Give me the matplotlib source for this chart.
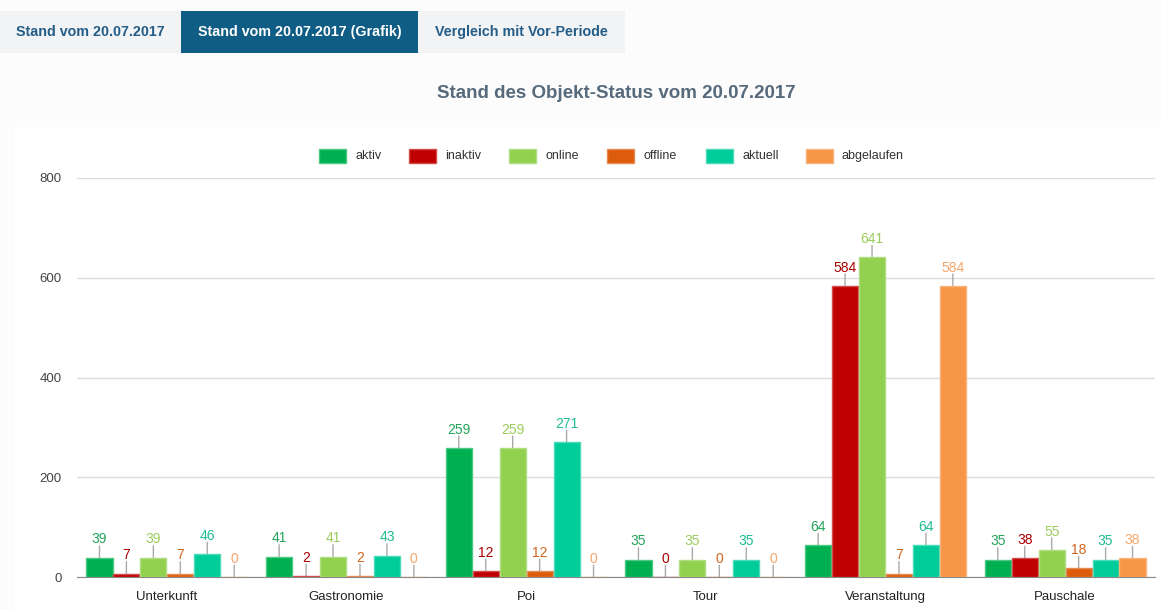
import matplotlib
matplotlib.use("Agg")
import matplotlib.pyplot as plt
import numpy as np
from matplotlib.patches import Rectangle

plt.rcParams['font.family'] = ['Liberation Sans', 'DejaVu Sans']

categories = ["Unterkunft", "Gastronomie", "Poi", "Tour", "Veranstaltung", "Pauschale"]
series_names = ["aktiv", "inaktiv", "online", "offline", "aktuell", "abgelaufen"]
aktiv = [39, 41, 259, 35, 64, 35]
inaktiv = [7, 2, 12, 0, 584, 38]
online = [39, 41, 259, 35, 641, 55]
offline = [7, 2, 12, 0, 7, 18]
aktuell = [46, 43, 271, 35, 64, 35]
abgelaufen = [0, 0, 0, 0, 584, 38]
y_ticks = [0, 200, 400, 600, 800]
tabs = ["Stand vom 20.07.2017", "Stand vom 20.07.2017 (Grafik)", "Vergleich mit Vor-Periode"]
title = "Stand des Objekt-Status vom 20.07.2017"

series = [aktiv, inaktiv, online, offline, aktuell, abgelaufen]
fills = ["#00b050", "#c00000", "#92d050", "#dd5c0c", "#00cc99", "#f79646"]
edges = ["#4cc884", "#d24c4c", "#b0dd82", "#e68a55", "#4cdbb8", "#f9b47c"]
label_cols = ["#22a35a", "#a80000", "#9ccc5c", "#d0641e", "#1fbb94", "#f4a66c"]

W, H = 1161, 610
fig = plt.figure(figsize=(W / 100, H / 100), dpi=100)
fig.patch.set_facecolor("#fcfcfc")


def fx(px):
    return px / W


def fy(py):
    return 1 - py / H


# white chart panel
fig.patches.append(Rectangle((fx(15), 0), 1, fy(127), transform=fig.transFigure,
                             facecolor="white", edgecolor="none", zorder=-1))

# tabs
tab_x = [0, 181, 418, 625]
for i, t in enumerate(tabs):
    active = i == 1
    fig.patches.append(Rectangle((fx(tab_x[i]), fy(53)), fx(tab_x[i + 1] - tab_x[i]), (53 - 11) / H,
                                 transform=fig.transFigure,
                                 facecolor="#0f5c84" if active else "#f1f3f5",
                                 edgecolor="none", zorder=1))
    fig.text(fx((tab_x[i] + tab_x[i + 1]) / 2), fy(32), t, ha="center", va="center",
             fontsize=10.3, fontweight="bold", color="white" if active else "#245d88")

fig.text(fx(616), fy(93), title, ha="center", va="center", fontsize=13.5,
         fontweight="bold", color="#566a7c")

# legend
leg_x = [319, 409, 509, 607, 706, 806]
for name, c, e, lx in zip(series_names, fills, edges, leg_x):
    fig.patches.append(Rectangle((fx(lx), fy(163)), fx(27), 14 / H, transform=fig.transFigure,
                                 facecolor=c, edgecolor=e, linewidth=1, zorder=2))
    fig.text(fx(lx + 36), fy(156), name, ha="left", va="center", fontsize=9, color="#333333")

ax = fig.add_axes([fx(77), 33 / H, fx(1155 - 77), 399 / H])
ax.set_facecolor("none")
x = np.arange(len(categories))
width = 0.15
for i, (vals, c, e, lc) in enumerate(zip(series, fills, edges, label_cols)):
    pos = x + (i - 2.5) * width
    ax.bar(pos, vals, width=width * 0.97, color=c, edgecolor=e, linewidth=1, zorder=3)
    for p, v in zip(pos, vals):
        ax.annotate("", xy=(p, v), xytext=(0, 8.5), textcoords="offset points",
                    arrowprops=dict(arrowstyle="-", color="#aaaaaa", lw=1,
                                    shrinkA=0, shrinkB=0), zorder=2)
        ax.annotate(str(v), xy=(p, v), xytext=(0, 13), textcoords="offset points",
                    ha="center", va="center", fontsize=10, color=lc, zorder=4)

ax.set_xlim(-0.5, len(categories) - 0.5)
ax.set_ylim(0, 800)
ax.set_yticks(y_ticks)
ax.set_xticks(x)
ax.set_xticklabels(categories)
ax.grid(axis="y", color="#dddddd", linewidth=1, zorder=0)
ax.set_axisbelow(True)
for s in ["top", "right", "left"]:
    ax.spines[s].set_visible(False)
ax.spines["bottom"].set_color("#888888")
ax.tick_params(axis="both", length=0, labelsize=9.5, colors="#444444")
ax.tick_params(axis="y", pad=11)
ax.tick_params(axis="x", pad=10)
for lbl in ax.get_xticklabels():
    lbl.set_color("#222222")

fig.savefig("out.png", dpi=100)
